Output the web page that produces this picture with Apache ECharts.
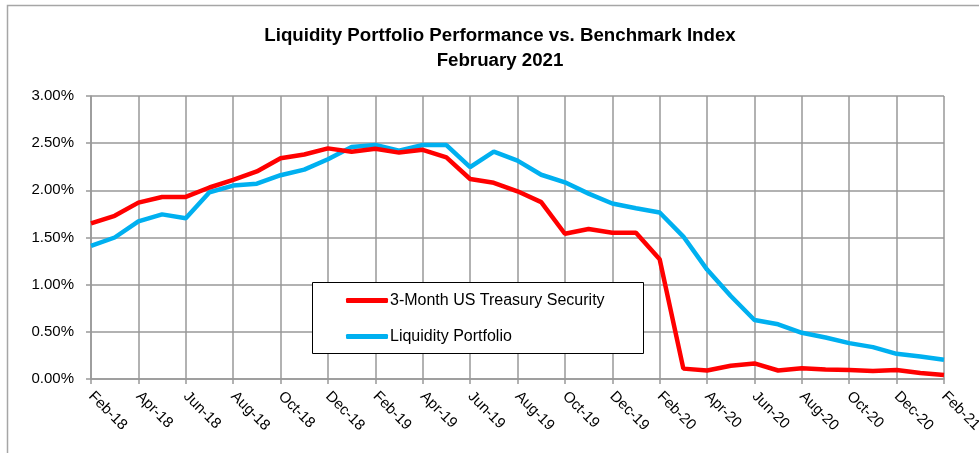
<!DOCTYPE html>
<html>
<head>
<meta charset="utf-8">
<script src="https://cdn.jsdelivr.net/npm/echarts@6/dist/echarts.min.js"></script>
<style>
  html, body { margin: 0; padding: 0; background: #fff; }
  #main { width: 979px; height: 453px; }
</style>
</head>
<body>
<div id="main"></div>
<script>
// 月份（x轴）
var months = [
  'Feb-18', 'Mar-18', 'Apr-18', 'May-18', 'Jun-18', 'Jul-18', 'Aug-18', 'Sep-18', 'Oct-18', 'Nov-18', 'Dec-18', 'Jan-19',
  'Feb-19', 'Mar-19', 'Apr-19', 'May-19', 'Jun-19', 'Jul-19', 'Aug-19', 'Sep-19', 'Oct-19', 'Nov-19', 'Dec-19', 'Jan-20',
  'Feb-20', 'Mar-20', 'Apr-20', 'May-20', 'Jun-20', 'Jul-20', 'Aug-20', 'Sep-20', 'Oct-20', 'Nov-20', 'Dec-20', 'Jan-21',
  'Feb-21'
]
// 3-Month US Treasury Security (%)
var treasury = [
  1.65, 1.73, 1.87, 1.93, 1.93, 2.03, 2.11, 2.20, 2.34, 2.38, 2.445, 2.41,
  2.44, 2.40, 2.43, 2.35, 2.12, 2.08, 1.99, 1.875, 1.54, 1.59, 1.55, 1.55,
  1.27, 0.11, 0.09, 0.14, 0.165, 0.09, 0.115, 0.10, 0.095, 0.084, 0.095, 0.063,
  0.042
]
// Liquidity Portfolio (%)
var portfolio = [
  1.41, 1.50, 1.67, 1.745, 1.705, 1.98, 2.05, 2.07, 2.16, 2.22, 2.33, 2.46,
  2.48, 2.42, 2.48, 2.48, 2.245, 2.41, 2.315, 2.165, 2.085, 1.965, 1.86, 1.81,
  1.765, 1.51, 1.16, 0.88, 0.625, 0.58, 0.49, 0.44, 0.38, 0.338, 0.267, 0.239,
  0.204
]

var fontFamily = '"Liberation Sans", Arial, sans-serif'
var gridColor = '#999'

var option = {
  animation: false,
  textStyle: { fontFamily: fontFamily },
  graphic: [
    {
      // 外边框
      type: 'rect',
      shape: { x: 7.5, y: 5.5, width: 1100, height: 600 },
      style: { fill: 'none', stroke: '#a6a6a6', lineWidth: 1.5 },
      silent: true
    },
    {
      type: 'text',
      x: 500,
      y: 23,
      style: {
        text: 'Liquidity Portfolio Performance vs. Benchmark Index\nFebruary 2021',
        align: 'center',
        font: 'bold 18.7px ' + fontFamily,
        lineHeight: 25,
        fill: '#000'
      }
    },
    {
      // 图例边框
      type: 'rect',
      z: 10,
      shape: { x: 312.5, y: 282.5, width: 331, height: 71 },
      style: { fill: '#fff', stroke: '#000', lineWidth: 1 }
    }
  ],
  legend: {
    orient: 'vertical',
    left: 346,
    top: 292,
    z: 20,
    icon: 'roundRect',
    itemWidth: 42,
    itemHeight: 5,
    itemGap: 19,
    padding: 0,
    textStyle: { fontSize: 16, lineHeight: 16, color: '#000', padding: [1, 0, 0, -3] },
    data: ['3-Month US Treasury Security', 'Liquidity Portfolio']
  },
  grid: {
    left: 91,
    right: 35,
    top: 96,
    bottom: 74,
    outerBoundsMode: 'none',
    containLabel: false
  },
  xAxis: {
    type: 'category',
    boundaryGap: false,
    data: months,
    axisLine: { show: true, lineStyle: { color: gridColor, width: 1.5 } },
    axisTick: { show: true, interval: 1, length: 5, lineStyle: { color: gridColor, width: 1.5 } },
    splitLine: { show: true, interval: 1, lineStyle: { color: gridColor, width: 1.5 } },
    axisLabel: {
      interval: 1,
      rotate: -45,
      margin: 15,
      fontSize: 15,
      color: '#000'
    }
  },
  yAxis: {
    type: 'value',
    min: 0,
    max: 3,
    interval: 0.5,
    axisLine: { show: true, lineStyle: { color: gridColor, width: 1.5 } },
    axisTick: { show: true, length: 5, lineStyle: { color: gridColor, width: 1.5 } },
    splitLine: { show: true, lineStyle: { color: gridColor, width: 1.5 } },
    axisLabel: {
      margin: 17,
      fontSize: 15,
      color: '#000',
      formatter: function (v) {
        return v.toFixed(2) + '%'
      }
    }
  },
  series: [
    {
      name: '3-Month US Treasury Security',
      type: 'line',
      symbol: 'none',
      z: 3,
      lineStyle: { color: '#FF0000', width: 4.5 },
      itemStyle: { color: '#FF0000' },
      data: treasury
    },
    {
      name: 'Liquidity Portfolio',
      type: 'line',
      symbol: 'none',
      z: 2,
      lineStyle: { color: '#00B0F0', width: 4.5 },
      itemStyle: { color: '#00B0F0' },
      data: portfolio
    }
  ]
}

var myChart = echarts.init(document.getElementById('main'))
myChart.setOption(option)
</script>
</body>
</html>
